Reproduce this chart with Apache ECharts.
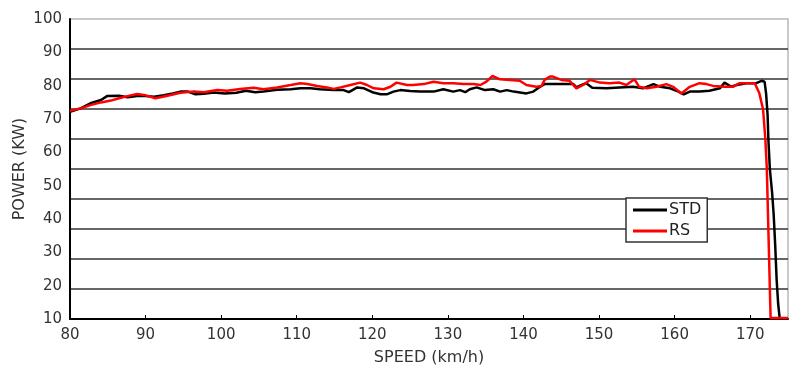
<!DOCTYPE html>
<html>
<head>
<meta charset="utf-8">
<script src="https://cdn.jsdelivr.net/npm/echarts@6/dist/echarts.min.js"></script>
<style>
html,body{margin:0;padding:0;background:#fff;}
#chart{width:800px;height:375px;}
</style>
</head>
<body>
<div id="chart"></div>
<script>
// STD series (speed km/h, power kW)
var stdSpeed = [80.0,81.4,82.7,84.1,84.9,86.5,87.6,88.9,90.0,91.1,92.4,93.6,94.6,95.6,96.6,97.7,99.0,100.5,102.0,103.3,104.5,105.6,107.4,109.2,110.5,111.8,113.1,114.9,116.2,116.9,118.0,118.9,120.0,121.1,121.9,122.8,123.7,125.0,126.3,128.1,129.4,130.7,131.6,132.3,132.9,133.8,134.9,136.0,136.9,137.8,138.7,140.4,141.3,142.2,142.8,144.8,146.6,147.0,147.7,148.3,149.1,151.0,152.7,154.5,155.8,157.2,158.1,159.4,160.5,161.2,162.0,163.3,164.6,166.0,166.6,167.5,168.2,169.5,170.8,171.5,171.9,172.1,172.3,172.4,172.6,172.9,173.1,173.3,173.5,173.7,173.9];
var stdPower = [69.1,70.2,71.9,73.0,74.3,74.4,73.9,74.3,74.3,74.1,74.6,75.2,75.8,75.8,74.9,75.1,75.5,75.2,75.4,76.1,75.6,75.8,76.4,76.6,76.9,76.9,76.6,76.3,76.3,75.6,77.2,76.9,75.6,74.9,74.9,75.8,76.3,76.0,75.8,75.8,76.6,75.8,76.3,75.6,76.6,77.2,76.3,76.6,75.8,76.3,75.8,75.2,75.8,77.4,78.3,78.3,78.3,77.2,78.0,78.6,77.1,76.9,77.2,77.4,76.9,78.3,77.4,76.9,75.8,74.9,75.8,75.8,76.1,76.9,78.8,77.4,78.0,78.6,78.6,79.4,79.1,75.2,68.0,60.0,50.0,42.0,35.0,25.0,13.0,5.0,0.3];
// RS series
var rsSpeed = [80.0,81.4,82.7,84.1,85.4,86.5,87.6,88.9,89.8,91.3,92.9,94.6,96.4,97.7,99.5,100.8,102.5,104.3,105.6,107.4,109.2,110.5,111.4,112.7,114.0,114.9,115.8,117.1,118.4,119.3,120.2,121.5,122.4,123.2,124.6,125.4,126.8,128.1,129.4,130.7,132.1,133.4,134.3,135.1,135.9,136.9,138.2,139.5,140.4,141.7,142.4,142.8,143.5,143.9,145.0,146.1,147.0,147.9,148.8,150.1,151.4,152.7,153.6,154.7,155.3,156.3,157.6,158.9,159.8,160.9,162.0,163.3,164.2,165.1,166.6,167.7,168.6,169.9,170.6,171.2,171.7,172.0,172.2,172.3,172.4,172.5,172.6,172.7,175.0];
var rsPower = [69.4,70.2,71.3,72.2,72.8,73.6,74.3,75.0,74.7,73.6,74.4,75.4,75.8,75.6,76.3,76.1,76.7,77.1,76.6,77.2,78.0,78.6,78.3,77.7,77.2,76.7,77.2,78.0,78.8,78.0,76.9,76.6,77.4,78.8,78.0,78.0,78.3,79.1,78.6,78.6,78.3,78.3,78.0,79.1,81.0,79.9,79.7,79.4,78.0,77.4,77.7,79.7,80.8,80.8,79.7,79.4,76.9,78.0,79.7,78.8,78.6,78.8,78.0,79.9,77.4,76.9,77.4,78.3,77.4,75.2,77.4,78.6,78.3,77.7,77.4,77.4,78.6,78.6,78.6,75.3,69.9,60.0,50.0,40.0,30.0,20.0,10.0,0.3,0.3];
var seriesNames = ['STD', 'RS'];
var seriesColors = ['#000000', '#ff0000'];

function zip(a, b) { return a.map(function (v, i) { return [v, b[i]]; }); }

var chart = echarts.init(document.getElementById('chart'), null, {renderer: 'canvas'});
var font = 'DejaVu Sans';
chart.setOption({
  animation: false,
  backgroundColor: '#ffffff',
  textStyle: {fontFamily: font},
  grid: {left: 70, right: 12, top: 19, bottom: 56, show: true, borderColor: '#b8b8b8', borderWidth: 1.5, backgroundColor: 'transparent'},
  legend: {
    data: seriesNames, orient: 'vertical', left: 626, top: 198,
    icon: 'rect', itemWidth: 34, itemHeight: 3, itemGap: 5, padding: [4, 6, 3, 7],
    borderColor: '#333', borderWidth: 1.5, backgroundColor: '#fff', borderRadius: 0,
    textStyle: {fontFamily: font, fontSize: 16, color: '#222', padding: [0, 0, 0, -3]}
  },
  xAxis: {
    type: 'value', min: 80, max: 175, interval: 10,
    name: 'SPEED (km/h)', nameLocation: 'middle', nameGap: 31,
    nameTextStyle: {fontFamily: font, fontSize: 16, color: '#333'},
    axisLine: {show: true, onZero: false, lineStyle: {color: '#000', width: 2}},
    axisTick: {show: true, inside: true, length: 4, lineStyle: {color: '#000', width: 1}},
    axisLabel: {fontFamily: font, fontSize: 15, color: '#333', margin: 9, showMaxLabel: false},
    splitLine: {show: false}
  },
  yAxis: [{
    type: 'value', min: 0, max: 100, interval: 10, position: 'left',
    name: 'POWER (KW)', nameLocation: 'middle', nameGap: 42,
    nameTextStyle: {fontFamily: font, fontSize: 16, color: '#333'},
    axisLine: {show: true, onZero: false, lineStyle: {color: '#000', width: 2}},
    axisTick: {show: false},
    axisLabel: {show: false},
    splitLine: {show: true, showMinLine: false, showMaxLine: false, lineStyle: {color: '#333', width: 1.5}}
  }, {
    type: 'value', min: 10, max: 100, interval: 10, position: 'left', offset: 0,
    axisLine: {show: false}, axisTick: {show: false}, splitLine: {show: false},
    axisLabel: {fontFamily: font, fontSize: 15, color: '#333', margin: 8}
  }],
  series: [{
    name: seriesNames[0], type: 'line', xAxisIndex: 0, yAxisIndex: 0,
    data: zip(stdSpeed, stdPower), symbol: 'none', showSymbol: false,
    lineStyle: {color: seriesColors[0], width: 2.5}, itemStyle: {color: seriesColors[0]}
  }, {
    name: seriesNames[1], type: 'line', xAxisIndex: 0, yAxisIndex: 0,
    data: zip(rsSpeed, rsPower), symbol: 'none', showSymbol: false,
    lineStyle: {color: seriesColors[1], width: 2.5}, itemStyle: {color: seriesColors[1]}
  }]
});
</script>
</body>
</html>
